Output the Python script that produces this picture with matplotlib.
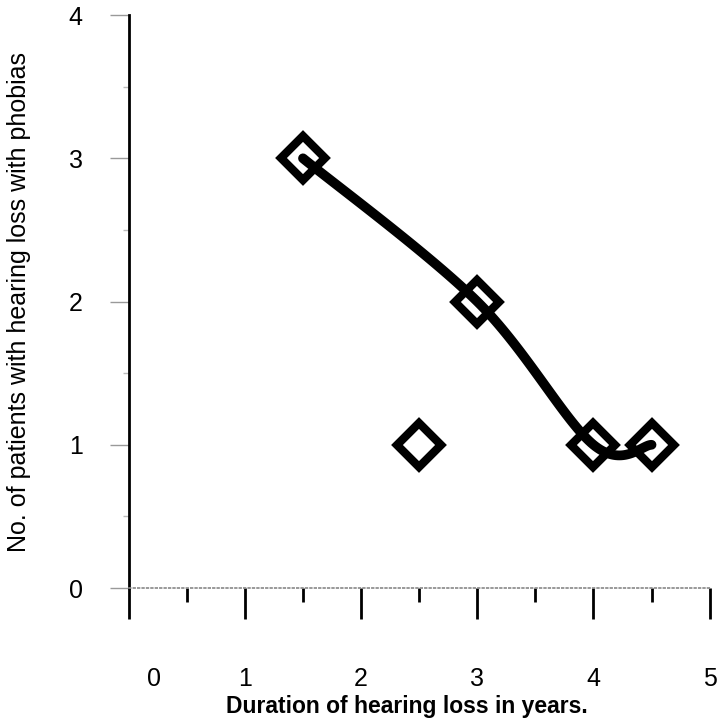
import matplotlib.pyplot as plt
import matplotlib.transforms as mtransforms
import numpy as np

plt.rcParams['font.family'] = ['Liberation Sans', 'DejaVu Sans']

# data points
years = [1.5, 2.5, 3, 4, 4.5]
patients = [3, 1, 2, 1, 1]
# points joined by the smoothed line
line_years = [1.5, 3, 4, 4.5]
line_patients = [3, 2, 1, 1]


def smooth(xs, ys, yscale=1.23, n=40):
    # Excel-like smoothed line (cubic bezier, catmull-rom tangents)
    p = np.column_stack([xs, np.array(ys) * yscale])
    p = np.vstack([p[0], p, p[-1]])
    out = []
    for i in range(1, len(p) - 2):
        b0 = p[i]
        b1 = p[i] + (p[i + 1] - p[i - 1]) / 6
        b2 = p[i + 1] - (p[i + 2] - p[i]) / 6
        b3 = p[i + 1]
        t = np.linspace(0, 1, n)[:, None]
        out.append((1 - t) ** 3 * b0 + 3 * (1 - t) ** 2 * t * b1 + 3 * (1 - t) * t ** 2 * b2 + t ** 3 * b3)
    out = np.vstack(out)
    return out[:, 0], out[:, 1] / yscale


fig = plt.figure(figsize=(7.19, 7.18), dpi=100)
ax = fig.add_axes([0.179, 0.181, 0.808, 0.798])

sx, sy = smooth(line_years, line_patients)
ax.plot(sx, sy, color='black', lw=7, solid_capstyle='round', zorder=2)
ax.plot(years, patients, linestyle='none', marker='D', markersize=22,
        markerfacecolor='white', markeredgecolor='none', zorder=1)
ax.plot(years, patients, linestyle='none', marker='D', markersize=22,
        markerfacecolor='none', markeredgecolor='black', markeredgewidth=6, zorder=3)

ax.set_xlim(0, 5)
ax.set_ylim(0, 4)
ax.set_xticks([0, 1, 2, 3, 4, 5])
ax.set_xticks(np.arange(0.5, 5, 1), minor=True)
ax.set_yticks([0, 1, 2, 3, 4])
ax.set_yticks(np.arange(0.5, 4, 1), minor=True)

ax.spines['top'].set_visible(False)
ax.spines['right'].set_visible(False)
ax.spines['left'].set_linewidth(2)
ax.spines['bottom'].set_linestyle(':')
ax.spines['bottom'].set_color('#888888')
ax.spines['bottom'].set_linewidth(1.2)

ax.tick_params(axis='x', which='major', direction='out', length=22, width=2,
               color='black', pad=35, labelsize=18)
ax.tick_params(axis='x', which='minor', direction='out', length=10, width=2, color='black')
ax.tick_params(axis='y', which='major', direction='out', length=14, width=1,
               color='#999999', pad=19, labelsize=18)
ax.tick_params(axis='y', which='minor', direction='out', length=4, width=1, color='#bbbbbb')

# first x label sits right of the spine
lab0 = ax.get_xticklabels()[0]
lab0.set_transform(lab0.get_transform() + mtransforms.ScaledTranslation(0.25, 0, fig.dpi_scale_trans))

ax.set_xlabel('Duration of hearing loss in years.', fontsize=16.5, fontweight='bold')
ax.xaxis.set_label_coords(0.478, -0.206)
ax.xaxis.label.set_va('center')
ax.set_ylabel('No. of patients with hearing loss with phobias', fontsize=18)
ax.yaxis.set_label_coords(-0.188, 0.5)
ax.yaxis.label.set_va('center')

fig.savefig('out.png', dpi=100)
